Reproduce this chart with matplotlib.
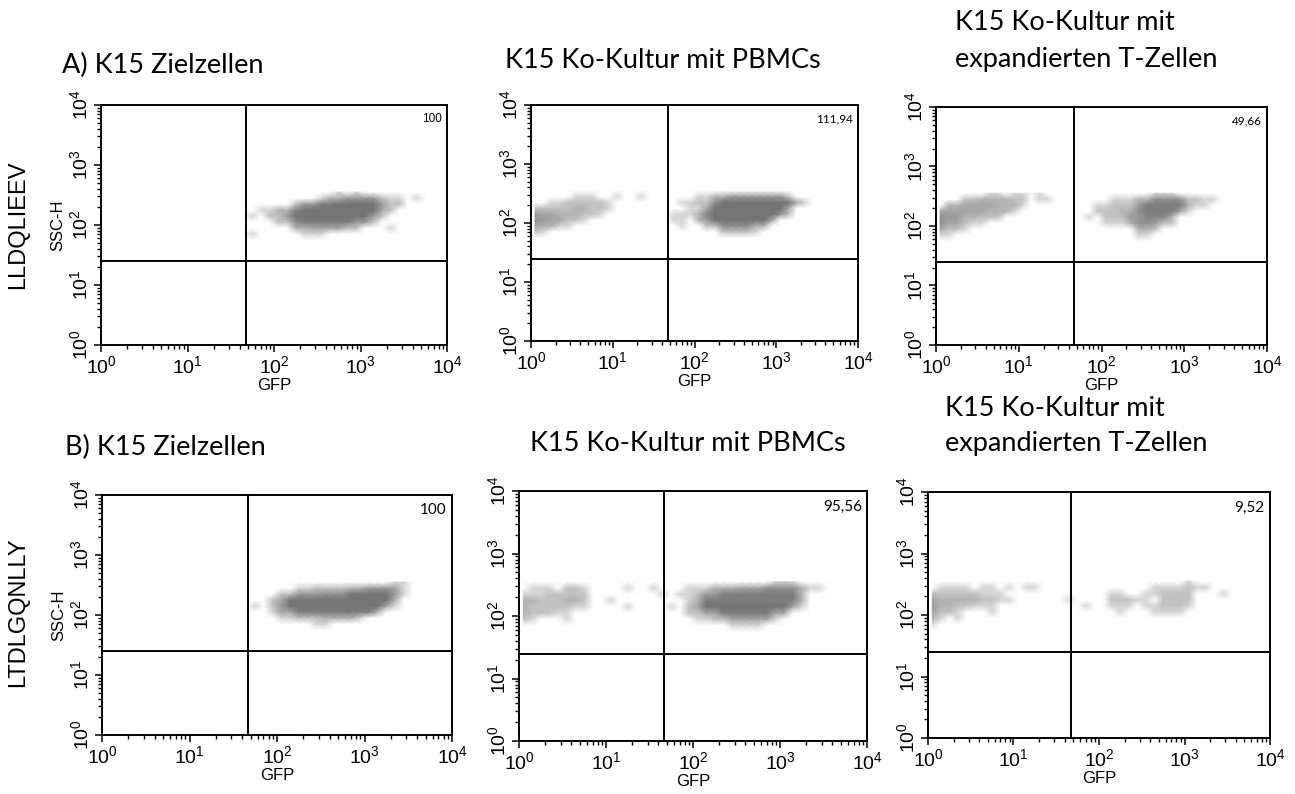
import numpy as np
import matplotlib
matplotlib.use("Agg")
import matplotlib.pyplot as plt
from matplotlib.colors import LinearSegmentedColormap, PowerNorm
from matplotlib.ticker import LogLocator, NullFormatter

plt.rcParams.update({'font.family': ['Liberation Sans', 'DejaVu Sans'],
                     'mathtext.fontset': 'custom',
                     'mathtext.rm': 'Liberation Sans',
                     'mathtext.it': 'Liberation Sans',
                     'mathtext.default': 'regular'})

# --- data -----------------------------------------------------------------
# dot density per 0.1-decade cell (0 = empty .. 9 = solid), columns log10(GFP) 0..4,
# rows log10(SSC-H) from 2.5-2.6 (top) down to 1.7-1.8 (bottom)
dens_a1 = ["0000000000|0000000000|0000000101|0000000000",
           "0000000000|0000000000|0000013355|5521101000",
           "0000000000|0000000000|0025588999|9952200000",
           "0000000000|0000000011|3379999999|9942000000",
           "0000000000|0000000102|2599999999|9520000000",
           "0000000000|0000000000|2268888885|5200000000",
           "0000000000|0000000000|0033444422|0001000000",
           "0000000000|0000000100|0001110000|0000000000",
           "0000000000|0000000000|0000000000|0000000000"]
dens_a2 = ["0000000000|0000000000|0000000000|0000000000",
           "0000011100|1001000000|1133555555|5200000000",
           "0011222221|0000000011|2269999999|9941000000",
           "2222233221|0000000001|1499999999|9400000000",
           "5443332210|0000000111|3799999999|6200000000",
           "6544221000|0000000110|3599999994|0000000000",
           "4331100000|0000000010|0226666330|0000000000",
           "2100000000|0000000000|0002222100|0000000000",
           "0000000000|0000000000|0000000000|0000000000"]
dens_a3 = ["0000001101|1010000000|0000001110|0000000000",
           "0002233332|2011000000|0111336666|2211000000",
           "0334444333|1000000001|1222588888|3110000000",
           "4444443331|0000000002|2233688884|1000000000",
           "6553322200|0000000010|2225577730|0000000000",
           "6442110000|0000000000|1113665220|0000000000",
           "4221000000|0000000000|0000332000|0000000000",
           "1100000000|0000000000|0000110000|0000000000",
           "0000000000|0000000000|0000000000|0000000000"]
dens_b1 = ["0000000000|0000000000|0000000000|0001100000",
           "0000000000|0000000000|0011222233|5554100000",
           "0000000000|0000000000|2255566699|9995100000",
           "0000000000|0000000002|4999999999|9993000000",
           "0000000000|0000000102|5999999999|9941000000",
           "0000000000|0000000001|4488888888|8300000000",
           "0000000000|0000000000|1122233331|0000000000",
           "0000000000|0000000000|0000110000|0000000000",
           "0000000000|0000000000|0000000000|0000000000"]
dens_b2 = ["0000000000|0000000000|0000000001|1100000000",
           "0111022100|0010010001|1133344466|6631100000",
           "1112222200|0000001011|2558888888|8830000000",
           "3322233200|1000000001|3888888888|8830000000",
           "3222221100|0010000102|4999999999|9410000000",
           "3222110000|0000000002|2448888884|4000000000",
           "2100010000|0000000000|1122444441|0000000000",
           "0000000000|0000000000|0000111100|0000000000",
           "0000000000|0000000000|0000000000|0000000000"]
dens_b3 = ["0000000000|0000000000|0000000000|1000000000",
           "0111101101|0110000000|0000001111|2110000000",
           "2222221110|0000000000|0110011222|2000100000",
           "4333332211|0000001000|0222110222|2000000000",
           "5332211100|0000000010|0111011222|1000000000",
           "4221000100|0000000000|0010001111|0000000000",
           "3101000000|0000000000|0000000000|0000000000",
           "1000000000|0000000000|0000000000|0000000000",
           "0000000000|0000000000|0000000000|0000000000"]

panel_density = [dens_a1, dens_a2, dens_a3, dens_b1, dens_b2, dens_b3]
corner_values = ['100', '111,94', '49,66', '100', '95,56', '9,52']
gfp_gate = 47
ssc_gate = 25
tick_values = [1, 10, 100, 1000, 10000]
tick_labels = [r'$10^{0}$', r'$10^{1}$', r'$10^{2}$', r'$10^{3}$', r'$10^{4}$']
row_labels = ['LLDQLIEEV', 'LTDLGQNLLY']

W, H = 1295, 794
fig = plt.figure(figsize=(W / 100, H / 100), dpi=100)

# axes boxes in pixels: left, top, right, bottom
boxes = [(101, 105, 447, 345), (531, 105, 858, 341), (936, 107, 1267, 345),
         (102, 495, 452, 735), (519, 491, 867, 741), (928, 492, 1270, 738)]

cmap = LinearSegmentedColormap.from_list('dots', ['#ffffff', '#747474'])
norm = PowerNorm(gamma=0.55, vmin=0, vmax=9)

xc = 10 ** (0.05 + 0.1 * np.arange(40))
yc = 10 ** (1.75 + 0.1 * np.arange(9))
XX, YY = np.meshgrid(xc, yc)

for i, (l, t, r, b) in enumerate(boxes):
    ax = fig.add_axes([l / W, 1 - b / H, (r - l) / W, (b - t) / H])
    rows = panel_density[i]
    C = np.array([[int(ch) for ch in s.replace('|', '')] for s in rows[::-1]], float)
    ax.pcolormesh(XX, YY, C, shading='gouraud', cmap=cmap, norm=norm, zorder=1)
    ax.set_xscale('log')
    ax.set_yscale('log')
    ax.set_xlim(1, 1e4)
    ax.set_ylim(1, 1e4)
    ax.axvline(gfp_gate, color='black', lw=1.4, zorder=3)
    ax.axhline(ssc_gate, color='black', lw=1.4, zorder=3)

    ax.set_xticks(tick_values)
    ax.set_xticklabels(tick_labels, fontsize=14)
    ax.set_yticks(tick_values)
    ax.set_yticklabels(tick_labels, fontsize=14, rotation=90, va='center')
    ax.xaxis.set_minor_locator(LogLocator(base=10, subs=np.arange(2, 10)))
    ax.yaxis.set_minor_locator(LogLocator(base=10, subs=np.arange(2, 10)))
    ax.xaxis.set_minor_formatter(NullFormatter())
    ax.yaxis.set_minor_formatter(NullFormatter())
    ax.tick_params(which='major', direction='out', length=5, width=1.1, pad=2)
    ax.tick_params(which='minor', direction='out', length=3, width=1.0)
    for sp in ax.spines.values():
        sp.set_linewidth(1.4)

    ax.set_xlabel('GFP', fontsize=12, labelpad=1)
    if i in (0, 3):
        ax.set_ylabel('SSC-H', fontsize=12, labelpad=3)

    fs = 8.5 if i < 3 else 11
    fam = 'Liberation Sans' if i == 0 else 'Lato'
    ax.text(0.985, 0.965, corner_values[i], transform=ax.transAxes, ha='right',
            va='top', fontsize=fs, family=fam, zorder=4)

# panel titles
tfont = dict(family='Lato', fontsize=19.5, va='center', ha='left')
fig.text(62 / W, 1 - 65 / H, 'A) K15 Zielzellen', **tfont)
fig.text(505 / W, 1 - 60 / H, 'K15 Ko-Kultur mit PBMCs', **tfont)
fig.text(955 / W, 1 - 22 / H, 'K15 Ko-Kultur mit', **tfont)
fig.text(955 / W, 1 - 60 / H, 'expandierten T-Zellen', **tfont)
fig.text(65 / W, 1 - 447 / H, 'B) K15 Zielzellen', **tfont)
fig.text(530 / W, 1 - 443 / H, 'K15 Ko-Kultur mit PBMCs', **tfont)
fig.text(945 / W, 1 - 408 / H, 'K15 Ko-Kultur mit', **tfont)
fig.text(945 / W, 1 - 443 / H, 'expandierten T-Zellen', **tfont)

# peptide row labels
fig.text(18 / W, 1 - 225 / H, row_labels[0], rotation=90, fontsize=17,
         va='center', ha='center')
fig.text(18 / W, 1 - 612 / H, row_labels[1], rotation=90, fontsize=17,
         va='center', ha='center')

fig.savefig('out.png', dpi=100)
